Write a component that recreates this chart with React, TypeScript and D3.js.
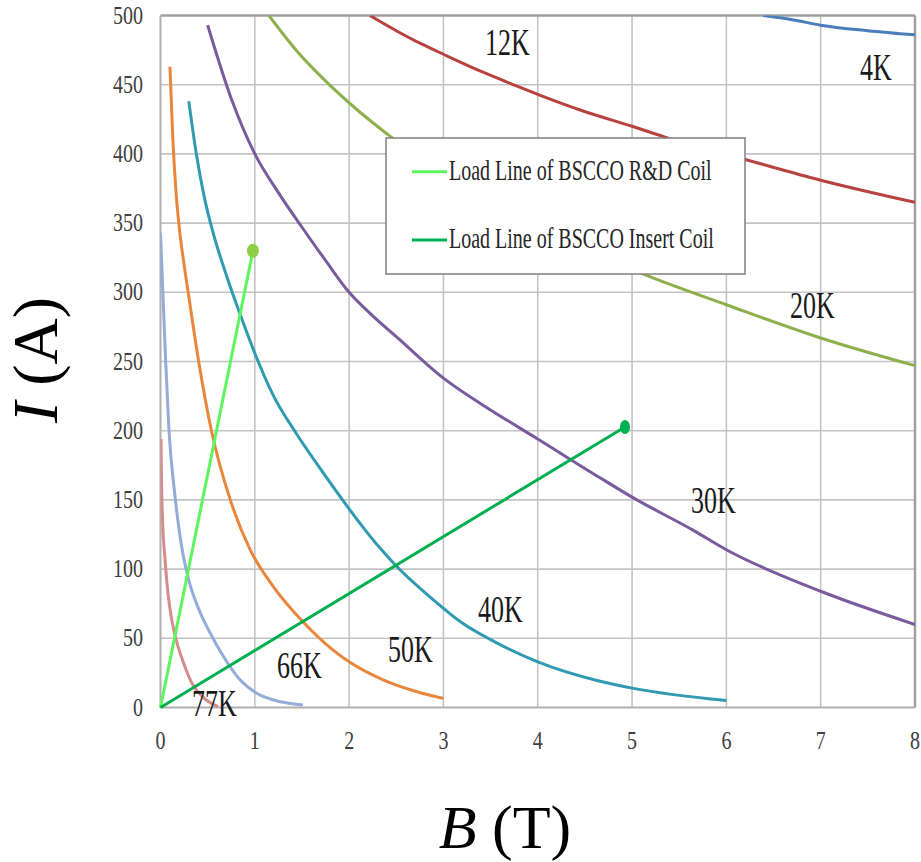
import React from "react";
import * as d3 from "d3";

type P = [number, number];

// Critical current curves: [B (T), I (A)]
const k4: P[] = [[6.39, 500], [6.7, 497], [7, 493], [7.5, 489], [8, 486]];
const k12: P[] = [[2.22, 500], [2.5, 489], [2.75, 480], [3.0, 472], [3.42, 459], [3.78, 449], [4.0, 443], [4.48, 431], [5.0, 420], [5.4, 411], [6.2, 396], [7, 381], [8, 365]];
const k20: P[] = [[1.15, 500], [1.45, 474], [1.76, 452], [2.1, 431], [2.43, 413], [3, 386], [3.5, 366], [4, 348], [4.5, 331], [5.16, 312], [6, 291], [7, 267], [8, 247]];
const k30: P[] = [[0.5, 493], [0.75, 440], [1, 400], [1.25, 372], [1.5, 347], [1.75, 323], [2, 300], [2.25, 283], [2.5, 268], [3, 238], [3.5, 215], [4, 194], [4.66, 166], [5, 152], [5.65, 128], [6, 114], [7, 84], [8, 60]];
const k40: P[] = [[0.3, 438], [0.38, 400], [0.47, 367], [0.55, 345], [0.7, 312], [0.85, 283], [1.0, 256], [1.2, 225], [1.44, 198], [1.7, 172], [1.93, 150], [2.15, 130], [2.33, 115], [2.49, 103], [2.89, 78], [3.18, 62], [3.5, 49], [4, 33], [4.66, 19], [5, 14], [6, 5]];
const k50: P[] = [[0.1, 463], [0.13, 412], [0.165, 372], [0.2, 346], [0.25, 320], [0.3, 297], [0.4, 252], [0.54, 200], [0.74, 150], [0.95, 114], [1.2, 87], [1.51, 62], [1.83, 41.5], [2, 33], [2.36, 20], [2.72, 11.4], [3, 6.6]];
const k66: P[] = [[0, 343], [0.025, 300], [0.055, 250], [0.09, 200], [0.15, 155], [0.22, 118], [0.3, 92], [0.4, 72], [0.525, 54], [0.666, 37], [0.843, 20], [1.02, 10.3], [1.2, 5.4], [1.51, 1.8]];
const k77: P[] = [[0.005, 194], [0.012, 160], [0.025, 130], [0.047, 108], [0.08, 82], [0.12, 63], [0.17, 48], [0.24, 33], [0.33, 18], [0.45, 7.5], [0.61, 0.6]];

// Load lines
const loadRD: P[] = [[0, 0], [0.98, 330]];
const loadInsert: P[] = [[0, 0], [4.925, 202.7]];

const xTicks = [0, 1, 2, 3, 4, 5, 6, 7, 8];
const yTicks = [0, 50, 100, 150, 200, 250, 300, 350, 400, 450, 500];

const curves = [
  { data: k4, color: "#4a7ebb", label: "4K", lx: 860, ly: 80 },
  { data: k12, color: "#b8423f", label: "12K", lx: 485, ly: 55 },
  { data: k20, color: "#8eb04c", label: "20K", lx: 790, ly: 318 },
  { data: k30, color: "#7a5c9e", label: "30K", lx: 691, ly: 513 },
  { data: k40, color: "#2f9ab2", label: "40K", lx: 478, ly: 622 },
  { data: k50, color: "#e8873c", label: "50K", lx: 388, ly: 662 },
  { data: k66, color: "#93acd8", label: "66K", lx: 277, ly: 678 },
  { data: k77, color: "#d58d8b", label: "77K", lx: 192, ly: 716 },
];

const legendItems = [
  { label: "Load Line of BSCCO R&D Coil", color: "#5ef55e" },
  { label: "Load Line of BSCCO Insert Coil", color: "#00b050" },
];

export default function App() {
  const x = d3.scaleLinear().domain([0, 8]).range([160.5, 915]);
  const y = d3.scaleLinear().domain([0, 500]).range([707.5, 15.5]);
  const line = d3
    .line<P>()
    .x((d) => x(d[0]))
    .y((d) => y(d[1]))
    .curve(d3.curveMonotoneX);
  const straight = d3
    .line<P>()
    .x((d) => x(d[0]))
    .y((d) => y(d[1]));
  const serif = "'Liberation Serif', 'Times New Roman', serif";

  return (
    <svg
      width={921}
      height={862}
      style={{ position: "absolute", left: 0, top: 0, background: "#fff" }}
    >
      <defs>
        <clipPath id="plot">
          <rect x={x(0)} y={y(500)} width={x(8) - x(0)} height={y(0) - y(500)} />
        </clipPath>
      </defs>
      {/* grid */}
      {xTicks.slice(1, -1).map((t) => (
        <line key={"gx" + t} x1={x(t)} x2={x(t)} y1={y(0)} y2={y(500)} stroke="#c4c4c4" strokeWidth={1.6} />
      ))}
      {yTicks.slice(1, -1).map((t) => (
        <line key={"gy" + t} x1={x(0)} x2={x(8)} y1={y(t)} y2={y(t)} stroke="#c4c4c4" strokeWidth={1.6} />
      ))}
      {/* frame */}
      <line x1={x(0)} x2={x(8)} y1={y(500)} y2={y(500)} stroke="#a0a0a0" strokeWidth={2.5} />
      <line x1={x(8)} x2={x(8)} y1={y(0)} y2={y(500)} stroke="#a0a0a0" strokeWidth={2.5} />
      <line x1={x(0)} x2={x(0)} y1={y(0)} y2={y(500)} stroke="#b0b0b0" strokeWidth={2} />
      <line x1={x(0)} x2={x(8)} y1={y(0)} y2={y(0)} stroke="#b0b0b0" strokeWidth={2} />

      {/* tick labels */}
      {yTicks.map((t) => (
        <text
          key={"ty" + t}
          transform={`translate(143,${y(t) + 8}) scale(1,1.24)`}
          textAnchor="end"
          fontFamily={serif}
          fontSize={20}
          fill="#404040"
        >
          {t}
        </text>
      ))}
      {xTicks.map((t) => (
        <text
          key={"tx" + t}
          transform={`translate(${x(t)},749) scale(1,1.24)`}
          textAnchor="middle"
          fontFamily={serif}
          fontSize={20}
          fill="#404040"
        >
          {t}
        </text>
      ))}

      {/* curves */}
      <g clipPath="url(#plot)">
        {curves.map((c) => (
          <path key={c.label} d={line(c.data) || ""} fill="none" stroke={c.color} strokeWidth={3} />
        ))}
      </g>

      {/* load lines */}
      <path d={straight(loadRD) || ""} stroke={legendItems[0].color} strokeWidth={3} fill="none" />
      <ellipse cx={x(loadRD[1][0])} cy={y(loadRD[1][1])} rx={6} ry={7} fill="#8ccf45" />
      <path d={straight(loadInsert) || ""} stroke={legendItems[1].color} strokeWidth={3} fill="none" />
      <ellipse cx={x(loadInsert[1][0])} cy={y(loadInsert[1][1])} rx={5} ry={7} fill="#00b050" />

      {/* curve labels */}
      {curves.map((c) => (
        <text
          key={"l" + c.label}
          transform={`translate(${c.lx},${c.ly}) scale(1,1.42)`}
          fontFamily={serif}
          fontSize={26}
          fill="#1a1a1a"
        >
          {c.label}
        </text>
      ))}

      {/* legend */}
      <rect x={386} y={138} width={359} height={136} fill="#fff" stroke="#808080" strokeWidth={1.5} />
      {legendItems.map((it, i) => (
        <g key={it.label}>
          <line x1={412} x2={447} y1={171.7 + i * 68.3} y2={171.7 + i * 68.3} stroke={it.color} strokeWidth={3} />
          <text
            transform={`translate(449,${180 + i * 68.3}) scale(1,1.45)`}
            fontFamily={serif}
            fontSize={20}
            fill="#262626"
          >
            {it.label}
          </text>
        </g>
      ))}

      {/* axis titles */}
      <text x={505} y={848} textAnchor="middle" fontFamily={serif} fontSize={62} fill="#000">
        <tspan fontStyle="italic">B</tspan> (T)
      </text>
      <text
        transform="translate(57,360) rotate(-90)"
        textAnchor="middle"
        fontFamily={serif}
        fontSize={64}
        fill="#000"
      >
        <tspan fontStyle="italic">I</tspan> (A)
      </text>
    </svg>
  );
}
